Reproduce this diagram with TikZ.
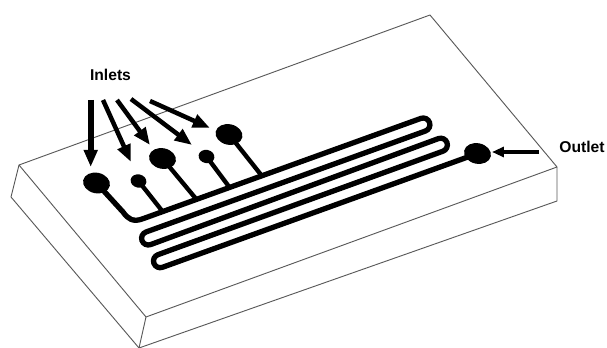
\documentclass[tikz,border=0pt]{standalone}
\usepackage{fontspec}
\setmainfont{Liberation Sans}
\usepackage{tikz}
\usetikzlibrary{arrows.meta,shapes.geometric}
\tikzset{
  plate/.style={draw=black!65, line width=.7pt, line join=round},
  channel/.style={draw=black, line width=4pt},
  stem/.style={draw=black, line width=3.3pt},
  bigport/.style={ellipse, fill=black, inner sep=0pt, minimum width=20.5pt, minimum height=15.5pt, rotate=-12},
  smallport/.style={ellipse, fill=black, inner sep=0pt, minimum width=12pt, minimum height=10pt, rotate=-12},
  callout/.style={draw=black, line width=3.4pt, -{Triangle[length=13pt,width=10pt]}},
  thincallout/.style={draw=black, line width=2.6pt, -{Triangle[length=9pt,width=7.5pt]}},
  tag/.style={font=\bfseries\fontsize{11.8}{14}\selectfont, inner sep=0pt}
}
\begin{document}
\begin{tikzpicture}[x=.0265cm,y=-.0265cm]
\useasboundingbox (0,0) rectangle (607,348);
% plate outline
\draw[plate] (19,165) -- (430,15) -- (557,167) -- (146,317) -- cycle;
\draw[plate] (19,165) -- (11,197) -- (139,348);
\draw[plate] (146,317) -- (139,348) -- (557,201) -- (557,167);
% ports
\node[bigport] (inleta) at (96.5,183) {};
\node[smallport] (inletb) at (138.5,181) {};
\node[bigport] (inletc) at (162.5,158.5) {};
\node[smallport] (inletd) at (206.5,156.5) {};
\node[bigport] (inlete) at (229,134.5) {};
\node[bigport] (outletport) at (477.5,153.5) {};
% channel
\draw[channel] (inleta.center) -- (123,212) .. controls (128,219) and (133,222.5) .. (143,218.7)
  -- (420.9,118.4) arc[start angle=-110, end angle=70, radius=6.7]
  -- (146,232) arc[start angle=250, end angle=70, radius=6.7]
  -- (438.4,138.6) arc[start angle=-110, end angle=70, radius=6.7]
  -- (157.9,254.7) arc[start angle=250, end angle=70, radius=6.7]
  -- (outletport.center);
\coordinate (jb) at (163,212);
\coordinate (jc) at (197,200);
\coordinate (jd) at (230,188);
\coordinate (je) at (262,176);
\draw[stem] (inletb.center) -- (jb);
\draw[stem] (inletc.center) -- (jc);
\draw[stem] (inletd.center) -- (jd);
\draw[stem] (inlete.center) -- (je);
% labels and arrows
\node[tag] (inlets) at (110.5,75) {Inlets};
\node[tag] (outlet) at (582,147) {Outlet};
\coordinate (ta) at (90.7,100);
\coordinate (tb) at (103,100);
\coordinate (tc) at (117,100);
\coordinate (td) at (131,99);
\coordinate (te) at (150,101);
\coordinate (tf) at (539,152);
\draw[callout, line width=4.4pt] (ta) -- (90.7,167);
\draw[callout] (tb) -- (131,162);
\draw[callout] (tc) -- (150,145);
\draw[callout] (td) -- (192,145);
\draw[callout] (te) -- (210,128);
\draw[thincallout] (tf) -- (492,152);
\end{tikzpicture}
\end{document}
